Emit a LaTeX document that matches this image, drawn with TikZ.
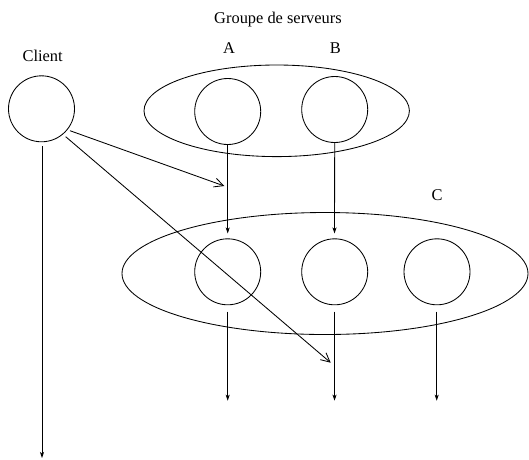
\documentclass[tikz,border=0pt]{standalone}
\usepackage{fontspec}
\setmainfont{Liberation Serif}
\usetikzlibrary{shapes.geometric,arrows.meta}
\begin{document}
\begin{tikzpicture}[x=1pt,y=-1pt,
  lw/.style={line width=0.85pt},
  proc/.style={draw,lw,circle,minimum size=66pt,inner sep=0pt},
  grp/.style={draw,lw,ellipse,inner sep=0pt},
  lbl/.style={inner sep=0pt,font=\fontsize{16.4}{19}\selectfont},
  flow/.style={lw,-{Stealth[length=6pt,width=4pt,inset=1.5pt]}},
  msg/.style={lw,-{Straight Barb[length=9pt,width=9pt,line width=0.85pt]}}]
\useasboundingbox (0,0) rectangle (529,459);
% groups
\node[grp,minimum width=265.4pt,minimum height=91.6pt] (G1) at (276.7,110.8) {};
\node[grp,minimum width=406pt,minimum height=122pt] (G2) at (325,273.5) {};
% processes
\node[proc] (cl) at (41.5,108.8) {};
\node[proc] (a) at (227.7,111.5) {};
\node[proc] (b) at (334.7,109.5) {};
\node[proc] (ca) at (227.7,271.8) {};
\node[proc] (cb) at (334.7,271.8) {};
\node[proc] (cc) at (437,271.8) {};
% labels
\node[lbl] (tg) at (278,20) {Groupe de serveurs};
\node[lbl] (tcl) at (42.7,56) {Client};
\node[lbl] (ta) at (229,47.7) {A};
\node[lbl] (tb) at (335.3,47.7) {B};
\node[lbl] (tc) at (437,195) {C};
% coordinates
\coordinate (clS) at (42,146);
\coordinate (clE) at (42,458);
\coordinate (aE) at (227.7,233.5);
\coordinate (bE) at (334.5,233.5);
\coordinate (caS) at (227.7,311.7);
\coordinate (caE) at (227.7,400.7);
\coordinate (cbS) at (334.5,311.7);
\coordinate (cbE) at (334.5,400.7);
\coordinate (ccS) at (436.7,311.7);
\coordinate (ccE) at (436.7,400.7);
\coordinate (m1S) at (70,130.7);
\coordinate (m1E) at (224.3,186);
\coordinate (m2S) at (65.7,136.7);
\coordinate (m2E) at (330.7,362.7);
% connectors
\draw[flow] (clS) -- (clE);
\draw[flow] (a.south) -- (aE);
\draw[flow] (b.south) -- (bE);
\draw[flow] (caS) -- (caE);
\draw[flow] (cbS) -- (cbE);
\draw[flow] (ccS) -- (ccE);
\draw[msg] (m1S) -- (m1E);
\draw[msg] (m2S) -- (m2E);
\end{tikzpicture}
\end{document}
